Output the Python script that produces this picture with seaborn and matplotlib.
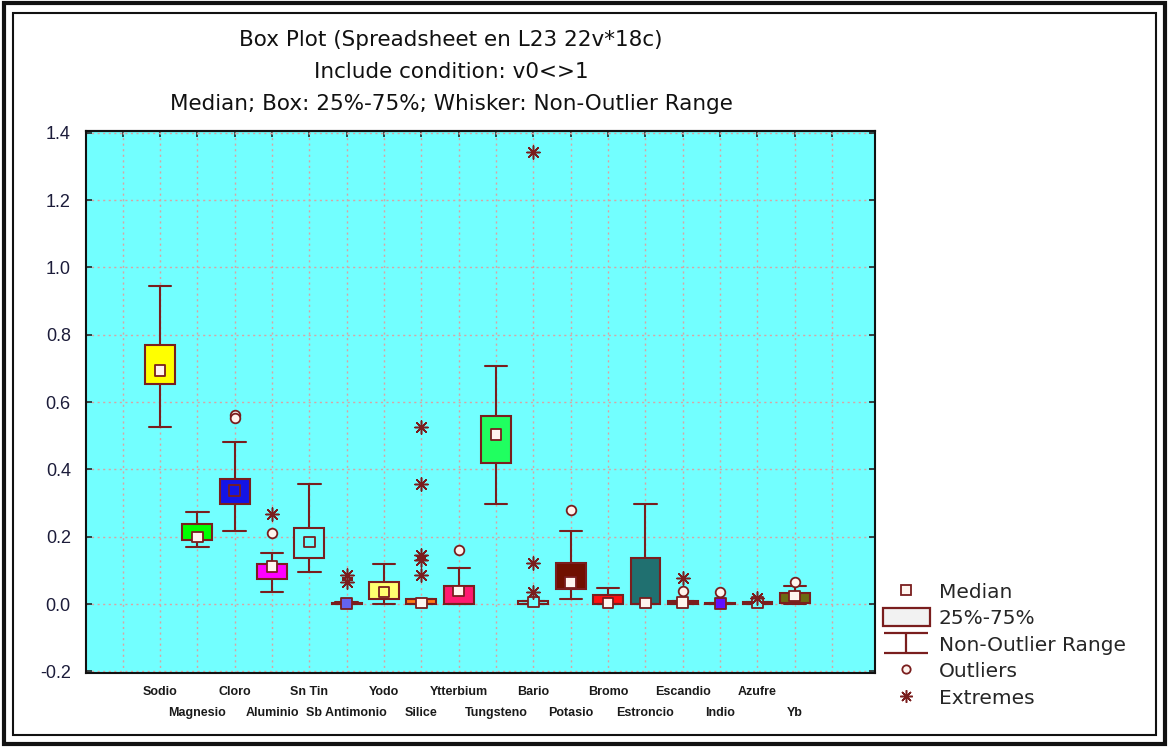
import numpy as np
import pandas as pd
import matplotlib
matplotlib.use("Agg")
import matplotlib.pyplot as plt
import seaborn as sns
from matplotlib.lines import Line2D
from matplotlib.patches import Patch, Rectangle
from matplotlib.path import Path

# summary values
elements = ["Sodio", "Magnesio", "Cloro", "Aluminio", "Sn Tin", "Sb Antimonio",
            "Yodo", "Silice", "Ytterbium", "Tungsteno", "Bario", "Potasio",
            "Bromo", "Estroncio", "Escandio", "Indio", "Azufre", "Yb"]
whisk_lo = [0.525, 0.169, 0.217, 0.036, 0.095, 0.0, 0.0, 0.0, 0.0, 0.297,
            0.0, 0.015, 0.0, 0.0, 0.0, 0.0, 0.0, 0.0]
q1 = [0.653, 0.190, 0.297, 0.074, 0.136, 0.0, 0.015, 0.0, 0.0, 0.418,
      0.0, 0.045, 0.0, 0.0, 0.0, 0.0, 0.0, 0.003]
medians = [0.694, 0.199, 0.338, 0.112, 0.184, 0.002, 0.036, 0.003, 0.039, 0.504,
           0.006, 0.065, 0.003, 0.003, 0.004, 0.002, 0.004, 0.024]
q3 = [0.769, 0.237, 0.371, 0.120, 0.226, 0.004, 0.065, 0.014, 0.053, 0.558,
      0.010, 0.121, 0.027, 0.136, 0.009, 0.004, 0.006, 0.033]
whisk_hi = [0.944, 0.273, 0.481, 0.151, 0.356, 0.006, 0.119, 0.014, 0.107, 0.706,
            0.010, 0.217, 0.047, 0.297, 0.009, 0.004, 0.006, 0.053]

outlier_el = ["Cloro", "Cloro", "Aluminio", "Ytterbium", "Potasio", "Escandio", "Indio", "Yb"]
outlier_val = [0.562, 0.552, 0.211, 0.160, 0.279, 0.038, 0.036, 0.066]
extreme_el = ["Aluminio", "Sb Antimonio", "Sb Antimonio", "Silice", "Silice", "Silice",
              "Silice", "Silice", "Bario", "Bario", "Bario", "Escandio", "Azufre"]
extreme_val = [0.267, 0.085, 0.064, 0.527, 0.358, 0.145, 0.130, 0.085,
               1.344, 0.122, 0.036, 0.078, 0.018]

bg = "#72FFFF"
edge = "#7A1E1E"
box_colors = ["#FFFF00", "#00FF00", "#1414E6", "#FF00FF", bg, "#6464F0",
              "#FFFF70", "#FF7A14", "#FF1A70", "#20FF60", bg, "#701000",
              "#FF1010", "#207070", "#7A1E1E", "#6010FF", bg, "#6B6B12"]
median_face = ["#FFF4EE", "#FFF4EE", "#1414E6", "#FFF4EE", bg, "#6464F0",
               "#FFFF70", "#FFF4EE", "#FFF4EE", "#FFF4EE", bg, "#FFF4EE",
               "#FFF4EE", "#FFF4EE", "#FFF4EE", "#6010FF", bg, "#FFF4EE"]

# five values per element -> with whis=(0, 100) the box shows exactly these stats
rows = []
for i, el in enumerate(elements):
    for v in (whisk_lo[i], q1[i], medians[i], q3[i], whisk_hi[i]):
        rows.append((el, v))
df = pd.DataFrame(rows, columns=["element", "value"])

sns.set_theme(style="white")
plt.rcParams["font.family"] = ["DejaVu Sans"]

fig = plt.figure(figsize=(11.69, 7.47), dpi=100)
ax = fig.add_axes([0.0736, 0.099, 0.675, 0.7256])
ax.set_facecolor(bg)

sns.boxplot(data=df, x="element", y="value", hue="element", order=elements,
            hue_order=elements, palette=box_colors, saturation=1, legend=False,
            whis=(0, 100), showfliers=False, width=0.8, linewidth=1.5,
            linecolor=edge, medianprops={"visible": False}, capwidths=0.6, ax=ax)

pos = np.arange(len(elements))
ax.scatter(pos, medians, marker="s", s=60, facecolors=median_face,
           edgecolors=edge, linewidths=1.3, zorder=5)
ax.scatter([elements.index(e) for e in outlier_el], outlier_val, marker="o", s=48,
           facecolors="#FFF4EE", edgecolors=edge, linewidths=1.3, zorder=5)
ax.scatter([elements.index(e) for e in extreme_el], extreme_val, marker=(8, 2, 0),
           s=90, color=edge, linewidths=1.1, zorder=5)

ax.set_xlim(-1.98, 19.15)
ax.set_ylim(-0.205, 1.405)
ax.set_xlabel("")
ax.set_ylabel("")

# dotted grid
for gx in range(-1, 19):
    ax.axvline(gx, color="#D9A3A3", lw=1.0, ls=(0, (1.5, 2.5)), zorder=0.5)
ax.set_yticks(np.arange(-0.2, 1.41, 0.2))
ax.set_yticklabels([f"{t:.1f}" for t in np.arange(-0.2, 1.41, 0.2)])
ax.yaxis.grid(True, color="#D9A3A3", lw=1.0, ls=(0, (1.5, 2.5)))
ax.set_axisbelow(True)

# staggered category labels
ax.set_xticks(pos[0::2])
ax.set_xticklabels(elements[0::2])
ax.set_xticks(pos[1::2], minor=True)
ax.set_xticklabels(elements[1::2], minor=True)
ax.tick_params(axis="x", which="major", direction="in", length=4, width=1.2,
               pad=9, labelsize=9, colors="#1a1a1a")
ax.tick_params(axis="x", which="minor", direction="out", length=24, width=1.4,
               pad=0.5, labelsize=9, colors="#1a1a1a")
for lab in ax.get_xticklabels(which="both"):
    lab.set_fontweight("bold")
    lab.set_family("Liberation Sans")
ax.tick_params(axis="y", direction="in", length=4, width=1.2, pad=11,
               labelsize=13, labelcolor="#1c1c3a", right=True, left=True)
for lab in ax.get_yticklabels():
    lab.set_family("Liberation Sans")

top = ax.secondary_xaxis("top")
top.set_xticks(range(-1, 19))
top.tick_params(direction="in", length=4, width=1.2, labeltop=False)

for sp in ax.spines.values():
    sp.set_color("#111111")
    sp.set_linewidth(1.5)
for sp in top.spines.values():
    sp.set_linewidth(1.5)

# titles
fig.text(0.386, 0.946, "Box Plot (Spreadsheet en L23 22v*18c)", ha="center",
         va="center", fontsize=15.5, color="#111111")
fig.text(0.386, 0.904, "Include condition: v0<>1", ha="center", va="center",
         fontsize=15.5, color="#111111")
fig.text(0.386, 0.861, "Median; Box: 25%-75%; Whisker: Non-Outlier Range",
         ha="center", va="center", fontsize=15.5, color="#111111")

# legend
whisk_path = Path([(-1, 0.43), (1, 0.43), (0, 0.43), (0, -0.43), (-1, -0.43), (1, -0.43)],
                  [Path.MOVETO, Path.LINETO, Path.MOVETO, Path.LINETO,
                   Path.MOVETO, Path.LINETO])
handles = [
    Line2D([], [], ls="", marker="s", ms=7, mfc="#FFF4EE", mec=edge, mew=1.3),
    Patch(facecolor="#F2F2F2", edgecolor=edge, linewidth=1.6),
    Line2D([], [], ls="", marker=whisk_path, ms=32, mec=edge, mew=1.6),
    Line2D([], [], ls="", marker="o", ms=6, mfc="#FFF4EE", mec=edge, mew=1.3),
    Line2D([], [], ls="", marker=(8, 2, 0), ms=9, color=edge, mew=1.1),
]
labels = ["Median", "25%-75%", "Non-Outlier Range", "Outliers", "Extremes"]
fig.legend(handles, labels, loc="center left", bbox_to_anchor=(0.747, 0.137),
           frameon=False, fontsize=14.5, handlelength=2.3, handleheight=1.0,
           handletextpad=0.45, labelspacing=0.33, borderpad=0)

# double page frame
fig.add_artist(Rectangle((0.003, 0.004), 0.994, 0.992, transform=fig.transFigure,
                         fill=False, lw=3, ec="#111111"))
fig.add_artist(Rectangle((0.011, 0.016), 0.978, 0.966, transform=fig.transFigure,
                         fill=False, lw=1.5, ec="#111111"))

fig.savefig("out.png", dpi=100, facecolor="white")
